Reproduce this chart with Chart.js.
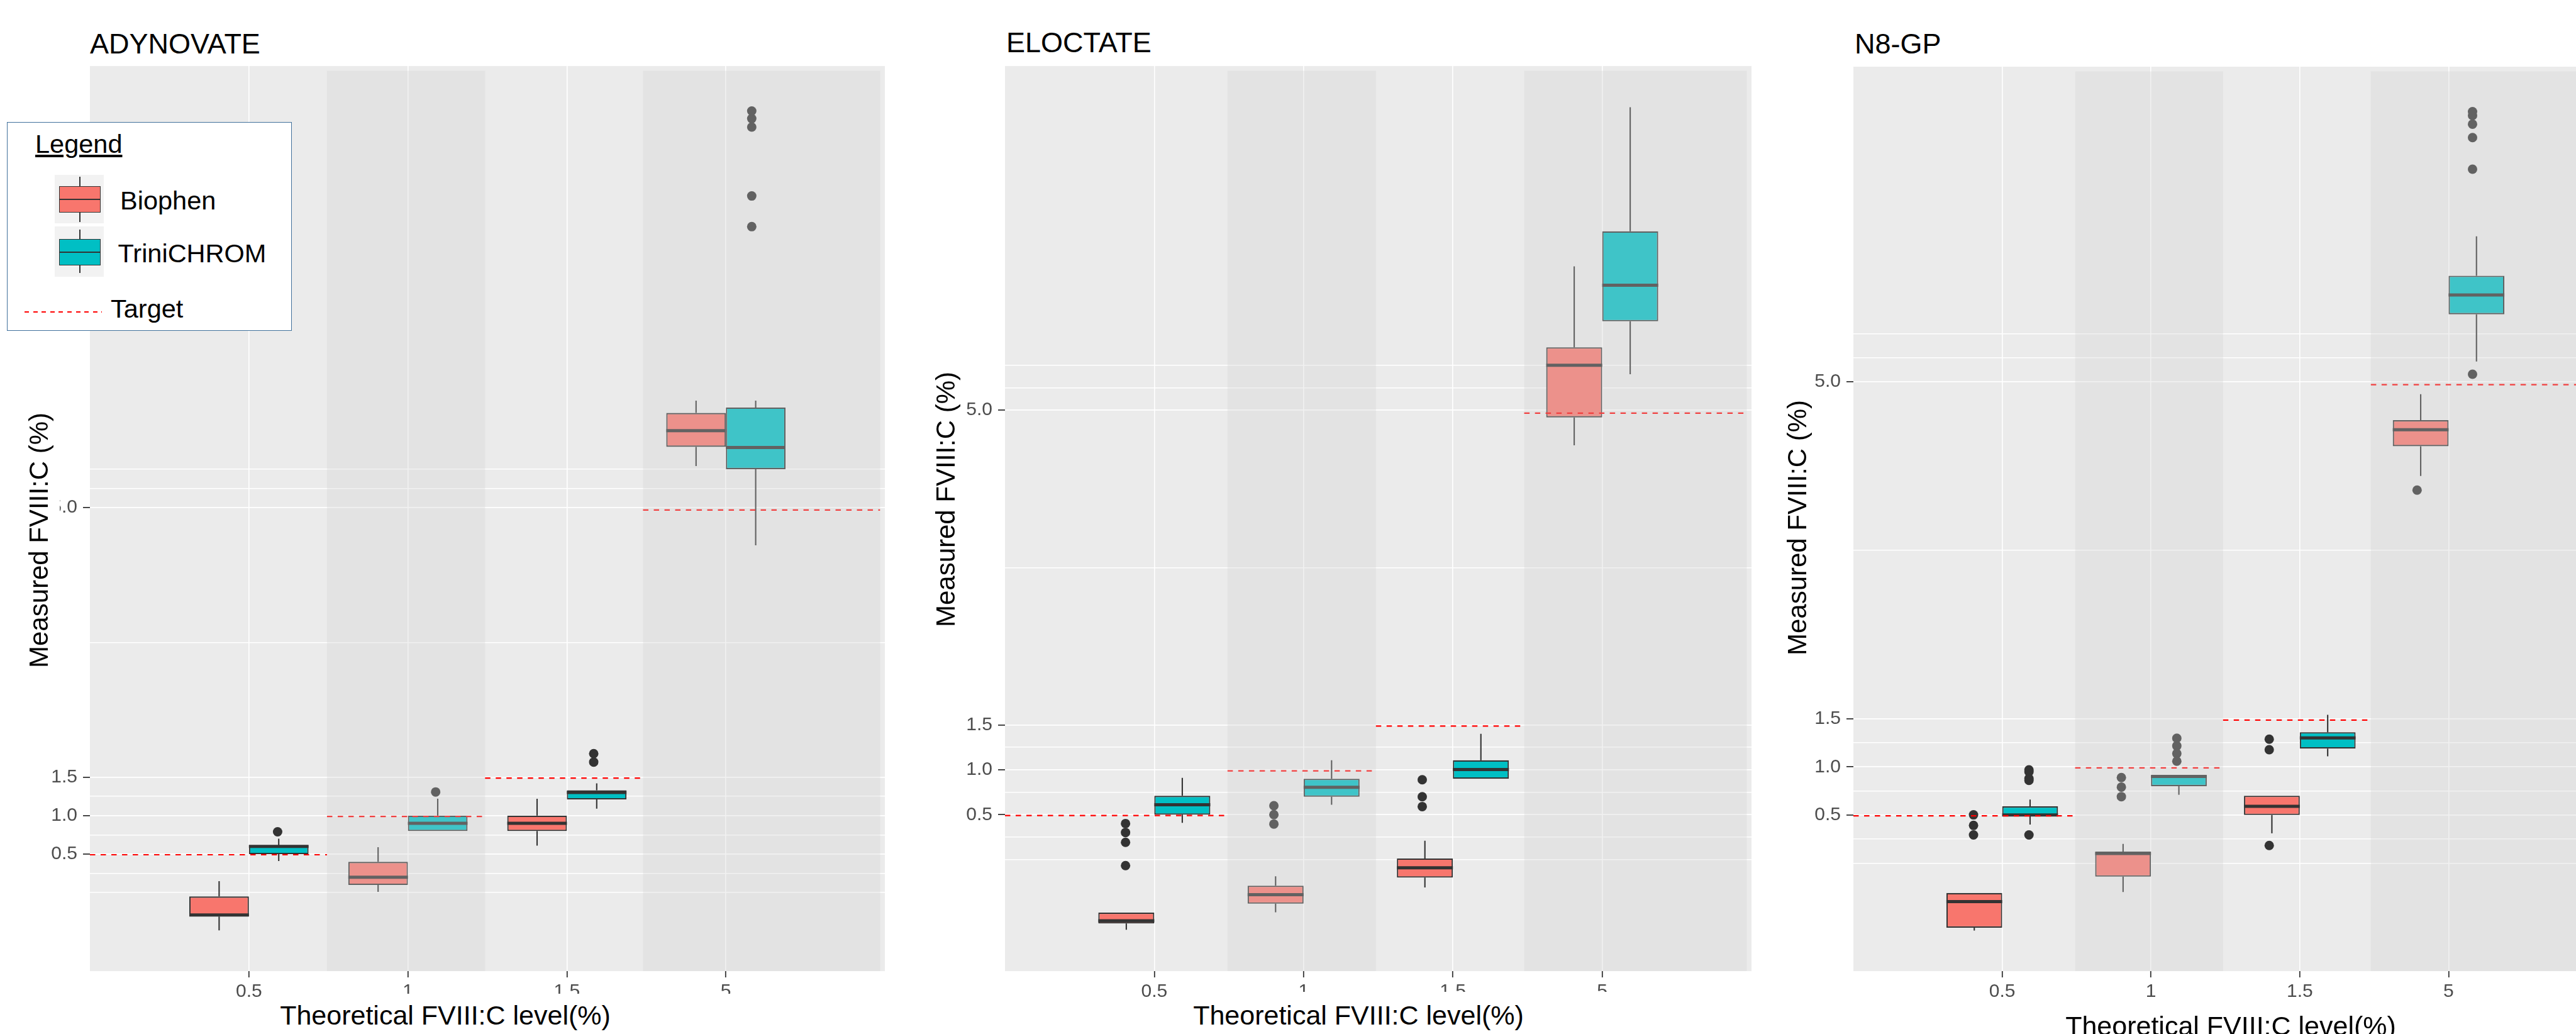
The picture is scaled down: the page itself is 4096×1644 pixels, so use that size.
<!DOCTYPE html>
<html>
<head>
<meta charset="utf-8">
<script src="https://cdn.jsdelivr.net/npm/chart.js@4.4.1/dist/chart.umd.min.js"></script>
<style>
  html, body { margin:0; padding:0; width:4096px; height:1644px; overflow:hidden; background:#ffffff; }
  body { position:relative; font-family:"Liberation Sans", Arial, Helvetica, sans-serif; }
  canvas { position:absolute; }
  .t { position:absolute; white-space:nowrap; line-height:1; color:#000; }
  .r { position:absolute; box-sizing:border-box; }
</style>
</head>
<body>
<script>
// ---------------- DATA ----------------
const categories = ['0.5', '1', '1.5', '5'];          // theoretical FVIII:C level (%)
const targets = [0.5, 1.0, 1.5, 5.0];                  // target level per category
const yTickValues = [0.5, 1.0, 1.5, 5.0];
const yTickLabels = ['0.5', '1.0', '1.5', '5.0'];
const yMinorValues = [0, 0.25, 0.75, 1.25, 3.25, 5.25, 5.5];
const panelTitles = ['ADYNOVATE', 'ELOCTATE', 'N8-GP'];
const seriesNames = ['Biophen', 'TriniCHROM', 'Target'];

// box statistics per category: [lower whisker, Q1, median, Q3, upper whisker]
const adynovateBiophen = [
  [-0.49, -0.31, -0.29, -0.05, 0.15],
  [0.01, 0.10, 0.20, 0.40, 0.59],
  [0.61, 0.80, 0.90, 1.00, 1.22],
  [5.54, 5.79, 6.00, 6.23, 6.39]
];
const adynovateTriniChrom = [
  [0.41, 0.50, 0.60, 0.615, 0.70],
  [0.80, 0.80, 0.90, 1.00, 1.22],
  [1.09, 1.21, 1.30, 1.33, 1.42],
  [4.51, 5.50, 5.78, 6.30, 6.39]
];
const adynovateBiophenOutliers = [[], [], [], []];
const adynovateTriniChromOutliers = [[0.80], [1.32], [1.71, 1.82], [8.70, 9.10, 10.00, 10.11, 10.21]];

const eloctateBiophen = [
  [-0.78, -0.71, -0.68, -0.59, -0.59],
  [-0.585, -0.49, -0.39, -0.29, -0.185],
  [-0.31, -0.20, -0.09, 0.013, 0.21],
  [4.61, 4.92, 5.50, 5.70, 6.60]
];
const eloctateTriniChrom = [
  [0.41, 0.50, 0.61, 0.71, 0.91],
  [0.61, 0.70, 0.805, 0.90, 1.105],
  [0.90, 0.90, 1.003, 1.105, 1.40],
  [5.40, 5.99, 6.39, 6.99, 8.37]
];
const eloctateBiophenOutliers = [[0.41, 0.31, 0.20, -0.06], [0.61, 0.51, 0.405], [0.90, 0.71, 0.60], []];
const eloctateTriniChromOutliers = [[], [], [], []];

const n8gpBiophen = [
  [-0.70, -0.67, -0.40, -0.31, -0.31],
  [-0.30, -0.14, 0.10, 0.12, 0.20],
  [0.31, 0.50, 0.59, 0.70, 0.70],
  [4.02, 4.33, 4.50, 4.60, 4.87]
];
const n8gpTriniChrom = [
  [0.40, 0.49, 0.50, 0.59, 0.66],
  [0.71, 0.80, 0.90, 0.91, 0.91],
  [1.11, 1.19, 1.30, 1.36, 1.54],
  [5.21, 5.70, 5.90, 6.10, 6.51]
];
const n8gpBiophenOutliers = [[0.51, 0.40, 0.30], [0.90, 0.80, 0.70], [1.30, 1.19, 0.19], [3.90]];
const n8gpTriniChromOutliers = [[0.98, 0.96, 0.89, 0.87, 0.30], [1.31, 1.23, 1.15, 1.07], [], [5.11, 7.25, 7.58, 7.72, 7.81, 7.85]];

// ---------------- LAYOUT / STYLE ----------------
const FONT = "'Liberation Sans', Arial, Helvetica, sans-serif";
const COL_B = '#F8766D', COL_T = '#00BFC4', COL_LINE = '#333333';
const AXW = 130, AXH = 100;

const panels = [
  { title: panelTitles[0], b: adynovateBiophen, t: adynovateTriniChrom, bo: adynovateBiophenOutliers, to: adynovateTriniChromOutliers,
    plotL: 143, plotR: 1407, plotT: 105, plotB: 1544, yMin: -1.019, yMax: 10.735,
    titleX: 143, titleBase: 84.6, xtCx: 708, xtBase: 1629, xtMask: {l: 430, r: 1200, t: 1580},
    ytCx: 61.6, ytCy: 859.3, ytMask: {h: 66, l: 480} },
  { title: panelTitles[1], b: eloctateBiophen, t: eloctateTriniChrom, bo: eloctateBiophenOutliers, to: eloctateTriniChromOutliers,
    plotL: 1598, plotR: 2785, plotT: 105, plotB: 1544, yMin: -1.240, yMax: 8.829,
    titleX: 1600, titleBase: 83.5, xtCx: 2160, xtBase: 1629, xtMask: {l: 1880, r: 2580, t: 1577},
    ytCx: 1504.3, ytCy: 794, ytMask: null },
  { title: panelTitles[2], b: n8gpBiophen, t: n8gpTriniChrom, bo: n8gpBiophenOutliers, to: n8gpTriniChromOutliers,
    plotL: 2947, plotR: 4130, plotT: 106, plotB: 1544, yMin: -1.121, yMax: 8.271,
    titleX: 2949, titleBase: 85, xtCx: 3547, xtBase: 1646, xtMask: null,
    ytCx: 2857.5, ytCy: 838.5, ytMask: null }
];

const isMajor = v => yTickValues.some(m => Math.abs(m - v) < 1e-9);

// background + whiskers + medians for the box chart
const boxPlugin = {
  id: 'ggbox',
  beforeDraw(chart) {
    const {ctx, chartArea: a} = chart;
    ctx.save();
    ctx.fillStyle = '#EBEBEB';
    ctx.fillRect(a.left, a.top, a.right - a.left, a.bottom - a.top);
    ctx.restore();
  },
  afterDatasetDraw(chart, args) {
    const ds = chart.data.datasets[args.index];
    if (!ds.stats) return;
    const y = chart.scales.y, ctx = chart.ctx, a = chart.chartArea;
    ctx.save();
    ctx.beginPath(); ctx.rect(a.left, a.top, a.right - a.left, a.bottom - a.top); ctx.clip();
    ctx.strokeStyle = COL_LINE;
    ctx.lineCap = 'butt';
    args.meta.data.forEach((el, i) => {
      const s = ds.stats[i];
      if (!s) return;
      const x = el.x, hw = el.width / 2;
      ctx.lineWidth = 2.1;
      ctx.beginPath();
      ctx.moveTo(x, y.getPixelForValue(s[3])); ctx.lineTo(x, y.getPixelForValue(s[4]));
      ctx.moveTo(x, y.getPixelForValue(s[1])); ctx.lineTo(x, y.getPixelForValue(s[0]));
      ctx.stroke();
      ctx.lineWidth = 5;
      ctx.beginPath();
      const ym = y.getPixelForValue(s[2]);
      ctx.moveTo(x - hw, ym); ctx.lineTo(x + hw, ym);
      ctx.stroke();
    });
    ctx.restore();
  }
};

// translucent shading over every second category band, drawn on top of everything
const shadePlugin = {
  id: 'ggshade',
  afterDatasetsDraw(chart) {
    const xs = chart.scales.x, ctx = chart.ctx, a = chart.chartArea;
    const n = categories.length;
    ctx.save();
    ctx.fillStyle = 'rgba(208,208,208,0.3)';
    categories.forEach((c, k) => {
      if (k % 2 !== 1) return;
      const i = k + 1;
      const x0 = xs.getPixelForValue(i - 0.5);
      const x1 = xs.getPixelForValue(k === n - 1 ? n + 1 : i + 0.5);
      ctx.fillRect(x0, a.top, x1 - x0, a.bottom - a.top);
    });
    ctx.restore();
  }
};

function addText(txt, left, base, size, opts = {}) {
  const d = document.createElement('div');
  d.className = 't';
  d.textContent = txt;
  d.style.fontSize = size + 'px';
  d.style.left = left + 'px';
  d.style.top = (base - 0.8465 * size) + 'px';
  if (opts.center) d.style.transform = 'translateX(-50%)';
  if (opts.underline) d.style.textDecoration = 'underline';
  document.body.appendChild(d);
  return d;
}
function addRect(l, t, w, h, style) {
  const d = document.createElement('div');
  d.className = 'r';
  d.style.left = l + 'px'; d.style.top = t + 'px';
  d.style.width = w + 'px'; d.style.height = h + 'px';
  Object.assign(d.style, style || {});
  document.body.appendChild(d);
  return d;
}
function addCanvas(p, w, h) {
  const cv = document.createElement('canvas');
  cv.width = w; cv.height = h;
  cv.style.left = (p.plotL - AXW) + 'px';
  cv.style.top = p.plotT + 'px';
  cv.style.width = w + 'px'; cv.style.height = h + 'px';
  document.body.appendChild(cv);
  return cv;
}

function makePanel(p) {
  const w = p.plotR - p.plotL + AXW, h = p.plotB - p.plotT + AXH;
  const n = categories.length;
  const labels = [''].concat(categories, ['']);
  const pad = arr => [null].concat(arr, [null]);
  const dodge = 0.75 / 4;
  const boxRange = arr => pad(arr.map(s => [s[1], s[3]]));
  const outlierPts = (outs, sign) => {
    const pts = [];
    outs.forEach((o, k) => o.forEach(v => pts.push({x: k + 1 + sign * dodge, y: v})));
    return pts;
  };
  const targetPts = [];
  targets.forEach((t, k) => {
    const i = k + 1;
    const x0 = k === 0 ? 0 : i - 0.5;
    const x1 = k === n - 1 ? n + 1 : i + 0.5;
    targetPts.push({x: x0, y: t}, {x: x1, y: t}, {x: x1, y: null});
  });
  const tickFont = {family: FONT, size: 30};
  const edge = c => (c.index === 0 || c.index === labels.length - 1);

  // --- chart A: axes, grid and boxes ---
  new Chart(addCanvas(p, w, h), {
    type: 'bar',
    data: {
      labels: labels,
      datasets: [
        { label: seriesNames[0], data: boxRange(p.b), stats: pad(p.b),
          backgroundColor: COL_B, borderColor: COL_LINE, borderWidth: 2.1, borderSkipped: false,
          categoryPercentage: 0.75, barPercentage: 1.0 },
        { label: seriesNames[1], data: boxRange(p.t), stats: pad(p.t),
          backgroundColor: COL_T, borderColor: COL_LINE, borderWidth: 2.1, borderSkipped: false,
          categoryPercentage: 0.75, barPercentage: 1.0 }
      ]
    },
    options: {
      responsive: false, animation: false, devicePixelRatio: 1, events: [],
      layout: {padding: 0},
      plugins: {legend: {display: false}, tooltip: {enabled: false}, title: {display: false}},
      scales: {
        x: {
          type: 'category', offset: false,
          grid: {
            offset: false, lineWidth: 1.6, tickWidth: 1.8, tickLength: 10, drawTicks: true,
            color: c => edge(c) ? 'rgba(0,0,0,0)' : '#FFFFFF',
            tickColor: c => edge(c) ? 'rgba(0,0,0,0)' : COL_LINE
          },
          border: {display: false},
          ticks: {autoSkip: false, maxRotation: 0, minRotation: 0, color: '#4D4D4D', font: tickFont, padding: 5},
          afterFit: s => { s.height = AXH; s.paddingLeft = 0; s.paddingRight = 0; }
        },
        y: {
          type: 'linear', min: p.yMin, max: p.yMax, bounds: 'data',
          afterBuildTicks: s => {
            s.ticks = yTickValues.concat(yMinorValues).sort((a, b) => a - b).map(v => ({value: v}));
          },
          ticks: {
            autoSkip: false, color: '#4D4D4D', font: tickFont, padding: 9,
            callback: v => { const k = yTickValues.findIndex(m => Math.abs(m - v) < 1e-9); return k >= 0 ? yTickLabels[k] : ''; }
          },
          grid: {
            color: '#FFFFFF', tickLength: 11, drawTicks: true,
            lineWidth: c => isMajor(c.tick.value) ? 1.8 : 1.5,
            tickWidth: 1.8,
            tickColor: c => isMajor(c.tick.value) ? COL_LINE : 'rgba(0,0,0,0)'
          },
          border: {display: false},
          afterFit: s => { s.width = AXW; s.paddingTop = 0; s.paddingBottom = 0; }
        }
      }
    },
    plugins: [boxPlugin]
  });

  // --- chart B (same plot area, on top): outliers, target lines, band shading ---
  new Chart(addCanvas(p, w, h), {
    type: 'scatter',
    data: {
      datasets: [
        { type: 'scatter', label: seriesNames[0] + ' outliers', data: outlierPts(p.bo, -1),
          pointRadius: 7.5, pointBackgroundColor: COL_LINE, pointBorderWidth: 0, order: 2 },
        { type: 'scatter', label: seriesNames[1] + ' outliers', data: outlierPts(p.to, 1),
          pointRadius: 7.5, pointBackgroundColor: COL_LINE, pointBorderWidth: 0, order: 2 },
        { type: 'line', label: seriesNames[2], data: targetPts,
          borderColor: '#FF0000', borderWidth: 2.2, borderDash: [8.5, 8.5], pointRadius: 0,
          spanGaps: false, fill: false, tension: 0, order: 1 }
      ]
    },
    options: {
      responsive: false, animation: false, devicePixelRatio: 1, events: [],
      layout: {padding: {left: AXW, right: 0, top: 0, bottom: AXH}},
      plugins: {legend: {display: false}, tooltip: {enabled: false}, title: {display: false}},
      scales: {
        x: {type: 'linear', min: 0, max: labels.length - 1, offset: false, display: false},
        y: {type: 'linear', min: p.yMin, max: p.yMax, display: false}
      }
    },
    plugins: [shadePlugin]
  });

  // panel title
  addText(p.title, p.titleX, p.titleBase, 45);
  // x axis title (white text box as in the source)
  if (p.xtMask) addRect(p.xtMask.l, p.xtMask.t, p.xtMask.r - p.xtMask.l, 1644 - p.xtMask.t, {background: '#FFFFFF'});
  addText('Theoretical FVIII:C level(%)', p.xtCx, p.xtBase, 43, {center: true});
  // y axis title (rotated)
  const yt = document.createElement('div');
  yt.className = 't';
  yt.textContent = 'Measured FVIII:C (%)';
  const L = p.ytMask ? p.ytMask.l : 440, H = p.ytMask ? p.ytMask.h : 60;
  Object.assign(yt.style, {
    fontSize: '42px', width: L + 'px', height: H + 'px', lineHeight: H + 'px', textAlign: 'center',
    left: p.ytCx + 'px', top: p.ytCy + 'px', transform: 'translate(-50%,-50%) rotate(-90deg)',
    background: p.ytMask ? '#FFFFFF' : 'transparent'
  });
  document.body.appendChild(yt);
}

panels.forEach(makePanel);

// ---------------- LEGEND (overlay box) ----------------
addRect(11, 194, 453, 332, {background: '#FFFFFF', border: '1.6px solid #41719C'});
addText('Legend', 56, 243, 41.5, {underline: true});
// Biophen key
addRect(87.4, 277.8, 77.2, 77.2, {background: '#F2F2F2'});
addRect(126, 280.5, 1.8, 72.4, {background: COL_LINE});
addRect(94.3, 295.5, 65.8, 42.9, {background: COL_B, border: '1.9px solid ' + COL_LINE});
addRect(94.3, 315.8, 65.8, 2.1, {background: COL_LINE});
addText(seriesNames[0], 191, 333.5, 41.5);
// TriniCHROM key
addRect(87.4, 359.5, 77.2, 80.3, {background: '#F2F2F2'});
addRect(126, 364.7, 1.8, 69.8, {background: COL_LINE});
addRect(94.3, 379.7, 65.8, 42.2, {background: COL_T, border: '1.9px solid ' + COL_LINE});
addRect(94.3, 400, 65.8, 2.1, {background: COL_LINE});
addText(seriesNames[1], 187.5, 417, 41.5);
// Target key
addRect(39, 494.6, 123, 2.4, {background: 'repeating-linear-gradient(to right, #FF0000 0 7px, rgba(0,0,0,0) 7px 13.6px)'});
addText(seriesNames[2], 176, 505.4, 41.5);
</script>
</body>
</html>
